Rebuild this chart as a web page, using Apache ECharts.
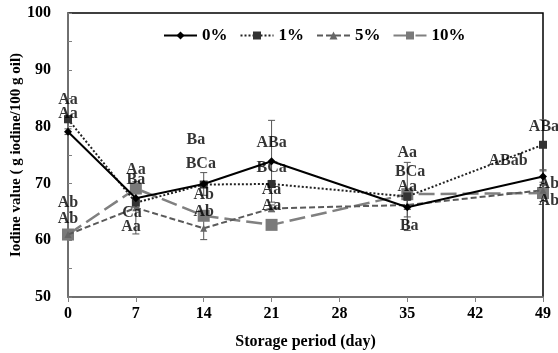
<!DOCTYPE html>
<html>
<head>
<meta charset="utf-8">
<script src="https://cdn.jsdelivr.net/npm/echarts@6/dist/echarts.min.js"></script>
<style>html,body{margin:0;padding:0;background:#fff}#c{width:558px;height:353px}</style>
</head>
<body>
<div id="c"></div>
<script>
var days = [0, 7, 14, 21, 35, 49];
var seriesNames = ['0%', '1%', '5%', '10%'];
var v0 = [79.1, 67.4, 69.9, 73.9, 65.8, 71.2];
var v1 = [81.3, 66.6, 69.8, 69.9, 67.7, 76.8];
var v5 = [61.0, 65.7, 62.1, 65.6, 66.2, 68.8];
var v10 = [61.0, 69.1, 64.3, 62.7, 68.1, 68.3];
var e0 = [0.5, 0.8, 2.0, 7.2, 1.7, 1.0];
var e1 = [0.6, 0.8, 0.5, 0.6, 6.0, 4.4];
var e5 = [0.4, 4.6, 2.0, 0.6, 0.8, 0.8];
var e10 = [0.4, 0.8, 0.8, 0.6, 0.8, 1.5];
var yTicks = [50, 60, 70, 80, 90, 100];
var xTicks = [0, 7, 14, 21, 28, 35, 42, 49];
// annotation letters: [day, value, text]
var letters = [
  [0, 84.7, 'Aa'], [0, 82.2, 'Aa'], [0, 66.5, 'Ab'], [0, 63.7, 'Ab'],
  [7, 72.4, 'Aa'], [7, 70.6, 'Ba'], [6.6, 64.8, 'Ca'], [6.5, 62.3, 'Aa'],
  [13.2, 77.6, 'Ba'], [13.7, 73.4, 'BCa'], [14, 68.0, 'Ab'], [14, 65.0, 'Ab'],
  [21, 77.1, 'ABa'], [21, 72.8, 'BCa'], [21, 68.8, 'Aa'], [21, 66.1, 'Aa'],
  [35, 75.3, 'Aa'], [35.3, 72.1, 'BCa'], [35, 69.4, 'Aa'], [35.2, 62.5, 'Ba'],
  [49.1, 79.9, 'ABa'], [45.4, 73.9, 'ABab'], [49.6, 69.9, 'Ab'], [49.6, 67.0, 'Ab']
];

var FONT = '"Liberation Serif", "Times New Roman", serif';
function pts(v) { return days.map(function (d, i) { return [d, v[i]]; }); }
function errData(v, e) { return days.map(function (d, i) { return [d, v[i] - e[i], v[i] + e[i]]; }); }
function errSeries(v, e, color) {
  return {
    type: 'custom', silent: true, z: 1, clip: false,
    renderItem: function (params, api) {
      var x = api.value(0);
      var lo = api.coord([x, api.value(1)]);
      var hi = api.coord([x, api.value(2)]);
      var w = 3.5;
      var st = { stroke: color, lineWidth: 1 };
      return { type: 'group', children: [
        { type: 'line', shape: { x1: lo[0], y1: lo[1], x2: hi[0], y2: hi[1] }, style: st },
        { type: 'line', shape: { x1: lo[0] - w, y1: lo[1], x2: lo[0] + w, y2: lo[1] }, style: st },
        { type: 'line', shape: { x1: hi[0] - w, y1: hi[1], x2: hi[0] + w, y2: hi[1] }, style: st }
      ] };
    },
    data: errData(v, e)
  };
}

var chart = echarts.init(document.getElementById('c'), null, { renderer: 'canvas' });
chart.setOption({
  animation: false,
  textStyle: { fontFamily: FONT },
  grid: { left: 68, right: 15, top: 13, bottom: 56, containLabel: false, outerBoundsMode: 'none',
          show: true, borderColor: '#000', borderWidth: 1.5, backgroundColor: '#fff' },
  legend: {
    top: 22, left: 158, itemWidth: 33, itemHeight: 10, itemGap: 12,
    data: seriesNames,
    textStyle: { fontFamily: FONT, fontWeight: 'bold', fontSize: 17, color: '#000' }
  },
  xAxis: {
    type: 'value', min: 0, max: 49, interval: 7,
    name: 'Storage period (day)', nameLocation: 'middle', nameGap: 37, nameMoveOverlap: false,
    nameTextStyle: { fontFamily: FONT, fontWeight: 'bold', fontSize: 16, color: '#000' },
    axisLine: { lineStyle: { color: '#808080', width: 1.5 } },
    axisTick: { show: true, length: 5, lineStyle: { color: '#808080' } },
    axisLabel: { fontFamily: FONT, fontWeight: 'bold', fontSize: 16, color: '#000', margin: 9 },
    splitLine: { show: false }
  },
  yAxis: {
    type: 'value', min: 50, max: 100, interval: 10,
    name: 'Iodine value ( g iodine/100 g oil)', nameLocation: 'middle', nameGap: 44, nameRotate: 90,
    nameMoveOverlap: false,
    nameTextStyle: { fontFamily: FONT, fontWeight: 'bold', fontSize: 15, color: '#000' },
    axisLine: { show: true, lineStyle: { color: '#808080', width: 1.5 } },
    axisTick: { show: true, inside: true, length: 4, lineStyle: { color: '#808080' } },
    minorTick: { show: true, splitNumber: 2, length: 4, lineStyle: { color: '#808080' } },
    axisLabel: { fontFamily: FONT, fontWeight: 'bold', fontSize: 16, color: '#000', margin: 17 },
    splitLine: { show: false }
  },
  series: [
    errSeries(v0, e0, '#555'),
    errSeries(v1, e1, '#555'),
    errSeries(v5, e5, '#555'),
    errSeries(v10, e10, '#555'),
    { name: '0%', type: 'line', data: pts(v0), z: 5, symbol: 'diamond', symbolSize: 8,
      itemStyle: { color: '#000' }, lineStyle: { color: '#000', width: 2, type: 'solid' } },
    { name: '1%', type: 'line', data: pts(v1), z: 4, symbol: 'rect', symbolSize: 8,
      itemStyle: { color: '#333' }, lineStyle: { color: '#222', width: 2, type: [2, 2] } },
    { name: '5%', type: 'line', data: pts(v5), z: 3, symbol: 'triangle', symbolSize: 7,
      itemStyle: { color: '#666' }, lineStyle: { color: '#5a5a5a', width: 2, type: [6, 3] } },
    { name: '10%', type: 'line', data: pts(v10), z: 2, symbol: 'rect', symbolSize: 12,
      itemStyle: { color: '#7a7a7a' }, lineStyle: { color: '#808080', width: 2.5, type: [16, 6] } },
    { type: 'scatter', silent: true, z: 10, symbolSize: 0, clip: false,
      data: letters.map(function (l) { return { value: [l[0], l[1]], name: l[2] }; }),
      label: { show: true, position: 'inside', formatter: '{b}', fontFamily: FONT, fontWeight: 'bold', fontSize: 16, color: '#000' } }
  ]
});
</script>
</body>
</html>
